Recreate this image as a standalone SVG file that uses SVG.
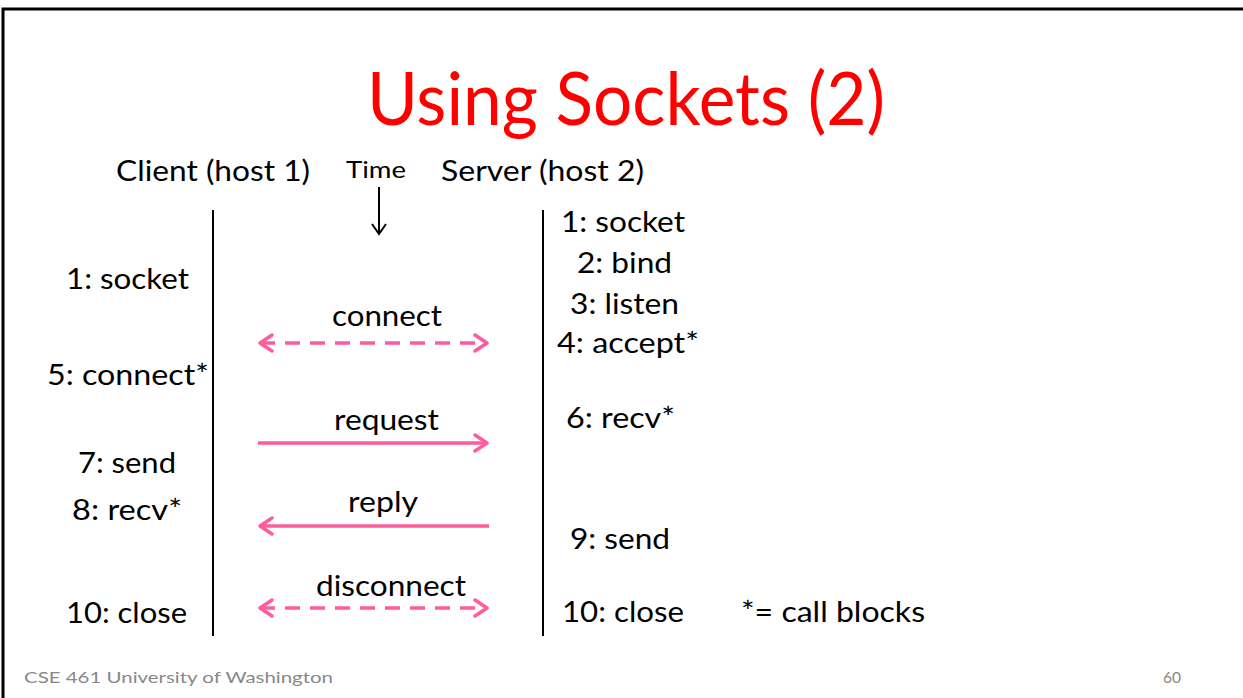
<svg xmlns="http://www.w3.org/2000/svg" width="1243" height="698" viewBox="0 0 1243 698">
<style>
text{font-family:Lato,"Open Sans","Liberation Sans",sans-serif;fill:#000}
.t{font-size:29px}
.title{font-size:74px;fill:#ff0000}
.small{font-size:24px}
.foot{font-size:16px;fill:#888}
.lane{stroke:#000;stroke-width:2}
.msg{stroke:#ff5c9d;stroke-width:3.5;fill:none}
.dash{stroke-dasharray:15 10}
</style>
<defs>
<marker id="head" viewBox="-16 -10 18 20" markerWidth="18" markerHeight="20" refX="0" refY="0" orient="auto-start-reverse" markerUnits="userSpaceOnUse">
<path d="M-12,-8 L0,0 L-12,8" fill="none" stroke="#ff5c9d" stroke-width="3.5" stroke-linecap="round" stroke-linejoin="round"/>
</marker>
</defs>
<rect width="1243" height="698" fill="#fff"/>
<path d="M3,698 V9 H1243" fill="none" stroke="#000" stroke-width="3"/>
<text class="title" x="626" y="125" text-anchor="middle" textLength="518" lengthAdjust="spacingAndGlyphs">Using Sockets (2)</text>
<g id="client-header"><text class="t" x="116" y="181" textLength="194" lengthAdjust="spacingAndGlyphs">Client (host 1)</text></g>
<g id="server-header"><text class="t" x="441" y="181" textLength="203" lengthAdjust="spacingAndGlyphs">Server (host 2)</text></g>
<g id="time">
<text class="small" x="346" y="178" textLength="60" lengthAdjust="spacingAndGlyphs">Time</text>
<line x1="379" y1="187" x2="379" y2="233" stroke="#000" stroke-width="2"/>
<path d="M372,224 L379,234 L386,224" fill="none" stroke="#000" stroke-width="2"/>
</g>
<g id="client-lane"><line class="lane" x1="213" y1="210" x2="213" y2="636"/></g>
<g id="server-lane"><line class="lane" x1="543" y1="210" x2="543" y2="636"/></g>
<g id="client-steps">
<text class="t" x="66" y="289" textLength="123" lengthAdjust="spacingAndGlyphs">1: socket</text>
<text class="t" x="47" y="385" textLength="162" lengthAdjust="spacingAndGlyphs">5: connect*</text>
<text class="t" x="78" y="473" textLength="98" lengthAdjust="spacingAndGlyphs">7: send</text>
<text class="t" x="72" y="520" textLength="110" lengthAdjust="spacingAndGlyphs">8: recv*</text>
<text class="t" x="66" y="623" textLength="121" lengthAdjust="spacingAndGlyphs">10: close</text>
</g>
<g id="server-steps">
<text class="t" x="561" y="232" textLength="124" lengthAdjust="spacingAndGlyphs">1: socket</text>
<text class="t" x="577" y="273" textLength="95" lengthAdjust="spacingAndGlyphs">2: bind</text>
<text class="t" x="570" y="314" textLength="109" lengthAdjust="spacingAndGlyphs">3: listen</text>
<text class="t" x="557" y="353" textLength="142" lengthAdjust="spacingAndGlyphs">4: accept*</text>
<text class="t" x="566" y="428" textLength="109" lengthAdjust="spacingAndGlyphs">6: recv*</text>
<text class="t" x="570" y="549" textLength="100" lengthAdjust="spacingAndGlyphs">9: send</text>
<text class="t" x="562" y="622" textLength="122" lengthAdjust="spacingAndGlyphs">10: close</text>
</g>
<g id="legend"><text class="t" x="741" y="622" textLength="184" lengthAdjust="spacingAndGlyphs">*= call blocks</text></g>
<g id="connectors">
<line class="msg dash" x1="260" y1="343" x2="487" y2="343" marker-start="url(#head)" marker-end="url(#head)"/>
<line class="msg" x1="258" y1="443" x2="487" y2="443" marker-end="url(#head)"/>
<line class="msg" x1="489" y1="526" x2="260" y2="526" marker-end="url(#head)"/>
<line class="msg dash" x1="260" y1="608" x2="487" y2="608" marker-start="url(#head)" marker-end="url(#head)"/>
<text class="t" x="332" y="326" textLength="110" lengthAdjust="spacingAndGlyphs">connect</text>
<text class="t" x="334" y="430" textLength="105" lengthAdjust="spacingAndGlyphs">request</text>
<text class="t" x="348" y="512" textLength="70" lengthAdjust="spacingAndGlyphs">reply</text>
<text class="t" x="316" y="596" textLength="150" lengthAdjust="spacingAndGlyphs">disconnect</text>
</g>
<text class="foot" x="24" y="683" textLength="309" lengthAdjust="spacingAndGlyphs">CSE 461 University of Washington</text>
<text class="foot" x="1163" y="683" textLength="18" lengthAdjust="spacingAndGlyphs">60</text>
</svg>
